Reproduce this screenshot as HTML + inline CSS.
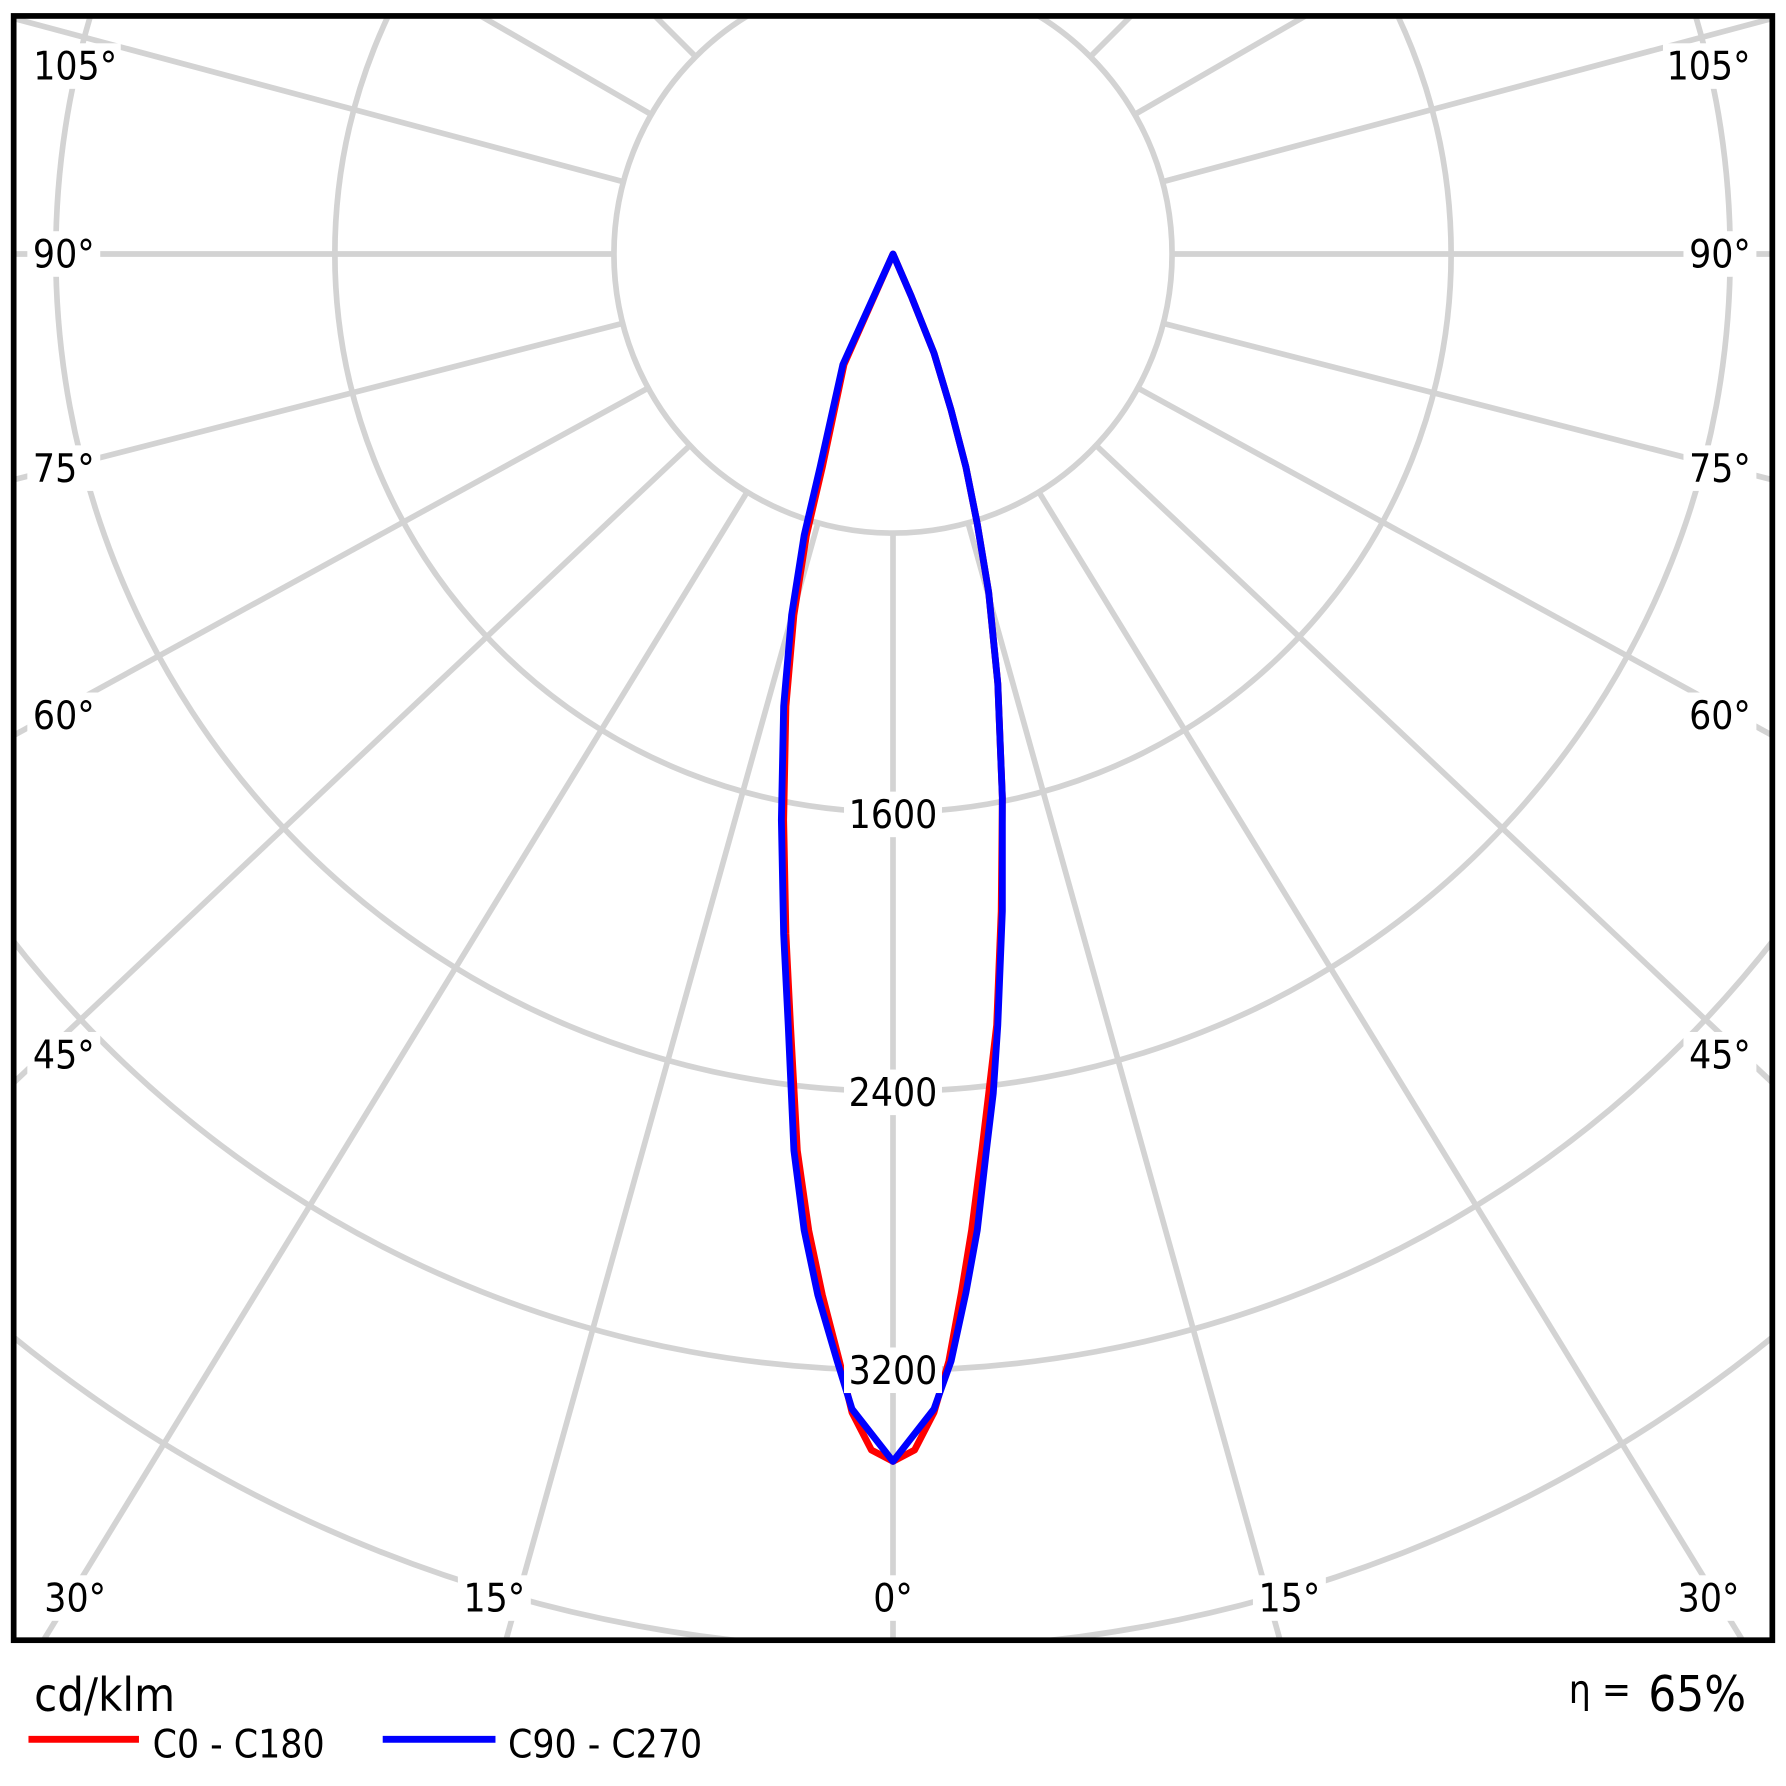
<!DOCTYPE html>
<html><head><meta charset="utf-8"><style>
html,body{margin:0;padding:0;background:#fff;width:1786px;height:1786px;overflow:hidden;}
svg{display:block;}
text{font-family:"DejaVu Sans Condensed","Liberation Sans",sans-serif;fill:#000;}
</style></head><body>
<svg width="1786" height="1786" viewBox="0 0 1568 1568" xmlns="http://www.w3.org/2000/svg">
<defs><clipPath id="c"><rect x="10" y="12" width="1548" height="1430"/></clipPath></defs>
<rect width="1568" height="1568" fill="#fff"/>
<g clip-path="url(#c)" stroke="#d3d3d3" stroke-width="5" fill="none">
<circle cx="784" cy="223" r="245"/>
<circle cx="784" cy="223" r="490"/>
<circle cx="784" cy="223" r="735"/>
<circle cx="784" cy="223" r="980"/>
<circle cx="784" cy="223" r="1225"/>
<circle cx="784" cy="223" r="1470"/>
<line x1="784" y1="468" x2="784" y2="1700"/>
<line x1="784" y1="468" x2="784" y2="1700" transform="rotate(15.6 784 223)"/>
<line x1="784" y1="468" x2="784" y2="1700" transform="rotate(31.5 784 223)"/>
<line x1="784" y1="468" x2="784" y2="1700" transform="rotate(46.7 784 223)"/>
<line x1="784" y1="468" x2="784" y2="1700" transform="rotate(61.3 784 223)"/>
<line x1="784" y1="468" x2="784" y2="1700" transform="rotate(75.6 784 223)"/>
<line x1="784" y1="468" x2="784" y2="1700" transform="rotate(90 784 223)"/>
<line x1="784" y1="468" x2="784" y2="1700" transform="rotate(105 784 223)"/>
<line x1="784" y1="468" x2="784" y2="1700" transform="rotate(120 784 223)"/>
<line x1="784" y1="468" x2="784" y2="1700" transform="rotate(135 784 223)"/>
<line x1="784" y1="468" x2="784" y2="1700" transform="rotate(150 784 223)"/>
<line x1="784" y1="468" x2="784" y2="1700" transform="rotate(-15.6 784 223)"/>
<line x1="784" y1="468" x2="784" y2="1700" transform="rotate(-31.5 784 223)"/>
<line x1="784" y1="468" x2="784" y2="1700" transform="rotate(-46.7 784 223)"/>
<line x1="784" y1="468" x2="784" y2="1700" transform="rotate(-61.3 784 223)"/>
<line x1="784" y1="468" x2="784" y2="1700" transform="rotate(-75.6 784 223)"/>
<line x1="784" y1="468" x2="784" y2="1700" transform="rotate(-90 784 223)"/>
<line x1="784" y1="468" x2="784" y2="1700" transform="rotate(-105 784 223)"/>
<line x1="784" y1="468" x2="784" y2="1700" transform="rotate(-120 784 223)"/>
<line x1="784" y1="468" x2="784" y2="1700" transform="rotate(-135 784 223)"/>
<line x1="784" y1="468" x2="784" y2="1700" transform="rotate(-150 784 223)"/>
</g>
<g font-size="34" text-anchor="middle">
<rect x="26" y="38" width="80" height="40" fill="#fff"/><text x="66" y="70">105°</text>
<rect x="1460" y="38" width="80" height="40" fill="#fff"/><text x="1500" y="70">105°</text>
<rect x="24" y="203" width="64" height="40" fill="#fff"/><text x="56" y="235">90°</text>
<rect x="1478" y="203" width="64" height="40" fill="#fff"/><text x="1510" y="235">90°</text>
<rect x="24" y="391" width="64" height="40" fill="#fff"/><text x="56" y="423">75°</text>
<rect x="1478" y="391" width="64" height="40" fill="#fff"/><text x="1510" y="423">75°</text>
<rect x="24" y="608" width="64" height="40" fill="#fff"/><text x="56" y="640">60°</text>
<rect x="1478" y="608" width="64" height="40" fill="#fff"/><text x="1510" y="640">60°</text>
<rect x="24" y="906" width="64" height="40" fill="#fff"/><text x="56" y="938">45°</text>
<rect x="1478" y="906" width="64" height="40" fill="#fff"/><text x="1510" y="938">45°</text>
<rect x="34" y="1383" width="64" height="40" fill="#fff"/><text x="66" y="1415">30°</text>
<rect x="402" y="1383" width="64" height="40" fill="#fff"/><text x="434" y="1415">15°</text>
<rect x="760" y="1383" width="48" height="40" fill="#fff"/><text x="784" y="1415">0°</text>
<rect x="1100" y="1383" width="64" height="40" fill="#fff"/><text x="1132" y="1415">15°</text>
<rect x="1468" y="1383" width="64" height="40" fill="#fff"/><text x="1500" y="1415">30°</text>
<rect x="741" y="695" width="86" height="40" fill="#fff"/><text x="784" y="727">1600</text>
<rect x="741" y="939" width="86" height="40" fill="#fff"/><text x="784" y="971">2400</text>
</g>
<g fill="none" stroke-width="6" stroke-linejoin="round">
<path stroke="#ff0000" d="M784,223 L800,260 L820,310 L835,360 L848,410 L858,460 L868,520 L876,600 L880,700 L879,800 L875,900 L868,960 L862,1010 L853,1080 L844,1135 L833,1195 L820,1240 L803,1273 L784,1283 L765,1273 L748,1240 L737,1195 L722,1137 L710,1080 L700,1010 L694,900 L690,820 L688,720 L690,620 L697,540 L708,470 L722,410 L741,320 Z"/>
<path stroke="#0000ff" d="M784,223 L800,260 L820,310 L835,360 L848,410 L858,460 L868,520 L876,600 L880,700 L880,800 L876,900 L872,960 L866,1010 L858,1080 L848,1135 L835,1195 L820,1237 L784,1283 L748,1237 L735,1195 L718,1137 L706,1080 L697,1010 L692,900 L688,820 L686,720 L688,620 L695,540 L706,470 L720,410 L740,320 Z"/>
</g>
<rect x="741" y="1183" width="86" height="40" fill="#fff"/><text x="784" y="1215" font-size="34" text-anchor="middle">3200</text>
<rect x="12" y="14" width="1544" height="1426" fill="none" stroke="#000" stroke-width="5"/>
<text x="30" y="1502" font-size="41">cd/klm</text>
<line x1="25" y1="1527" x2="122" y2="1527" stroke="#ff0000" stroke-width="6"/>
<text x="134" y="1543" font-size="34">C0 - C180</text>
<line x1="336" y1="1527" x2="435" y2="1527" stroke="#0000ff" stroke-width="6"/>
<text x="446" y="1543" font-size="34">C90 - C270</text>
<text x="1533" y="1502" font-size="43" text-anchor="end">65%</text>
<text x="1432" y="1495" font-size="34" text-anchor="end">η =</text>
</svg>
</body></html>
